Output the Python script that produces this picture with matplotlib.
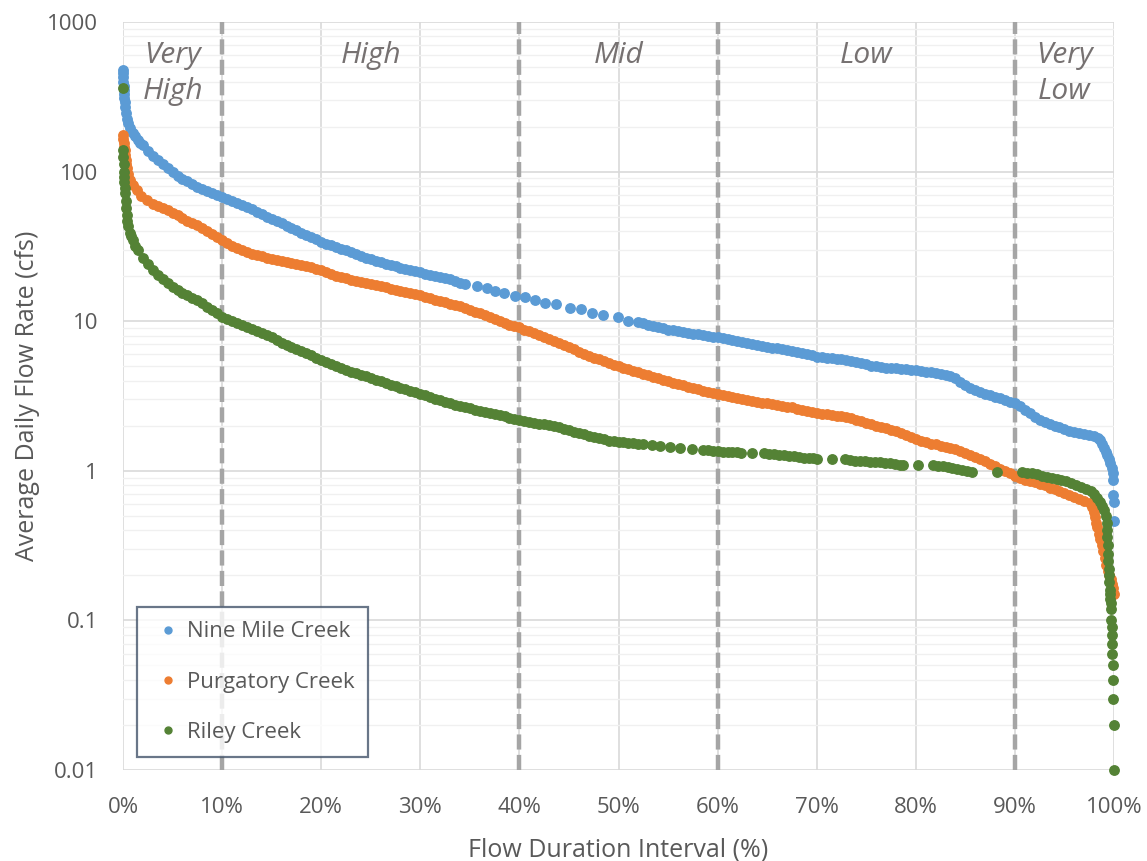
import matplotlib
matplotlib.use("Agg")
import matplotlib.pyplot as plt
import matplotlib.transforms as mtransforms
from matplotlib.lines import Line2D
from matplotlib.ticker import FixedLocator, FuncFormatter, NullFormatter

# Flow duration data: (percent of time flow is exceeded, average daily flow in cfs)
nine_mile = [
    (0.0, 480), (0.01, 455), (0.02, 430), (0.04, 400), (0.06, 375), (0.08, 350),
    (0.1, 330), (0.13, 310), (0.16, 290), (0.2, 270), (0.3, 245), (0.4, 225),
    (0.5, 212), (0.75, 195), (1.0, 182), (1.25, 172), (1.5, 163), (1.75, 156), (2.0, 150),
    (2.5, 138), (3.0, 128), (3.5, 120), (4.0, 113), (4.5, 106), (5.0, 100), (5.5, 94),
    (6.0, 89), (6.5, 86), (7.0, 82), (7.5, 79), (8.0, 76), (8.5, 74), (9.0, 72), (9.5, 70),
    (10.0, 68), (10.5, 66), (11.0, 64), (11.5, 62), (12.0, 60), (12.5, 58), (13.0, 56),
    (13.5, 54), (14.0, 52), (14.5, 50), (15.0, 48.5), (15.5, 47), (16.0, 45), (16.5, 43.5),
    (17.0, 42), (17.5, 40.5), (18.0, 39), (18.5, 37.8), (19.0, 36.5), (19.5, 35.2),
    (20.0, 34), (20.5, 33), (21.0, 32.2), (21.5, 31.4), (22.0, 30.6), (22.5, 29.8),
    (23.0, 29), (23.5, 28.2), (24.0, 27.3), (24.5, 26.6), (25.0, 26), (25.5, 25.4),
    (26.0, 24.8), (26.5, 24.3), (27.0, 23.8), (27.5, 23.3), (28.0, 22.8), (28.5, 22.4),
    (29.0, 22), (29.5, 21.6), (30.0, 21.2), (30.5, 20.8), (31.0, 20.4), (31.5, 20.1),
    (32.0, 19.8), (32.5, 19.5), (33.0, 19), (33.5, 18.5), (34.0, 18), (34.5, 17.6),
    (35.7, 17.2), (36.7, 16.7), (37.5, 15.8), (38.4, 15.5), (39.6, 14.8), (40.6, 14.5),
    (41.6, 13.9), (42.6, 13.3), (43.7, 13.0), (45.1, 12.3), (46.2, 12.0), (47.3, 11.4),
    (48.4, 11.0), (49.9, 10.6), (51.0, 10.0), (52.0, 9.9), (52.5, 9.7), (53.0, 9.5),
    (53.5, 9.3), (54.0, 9.2), (54.5, 9.0), (55.0, 8.8), (55.5, 8.7), (56.0, 8.55),
    (56.5, 8.45), (57.0, 8.35), (57.5, 8.25), (58.0, 8.15), (58.5, 8.05), (59.0, 8.0),
    (59.5, 7.9), (60.0, 7.8), (60.5, 7.7), (61.0, 7.6), (61.5, 7.5), (62.0, 7.4),
    (62.5, 7.3), (63.0, 7.15), (63.5, 7.05), (64.0, 6.9), (64.5, 6.8), (65.0, 6.7),
    (65.5, 6.65), (66.0, 6.6), (66.5, 6.55), (67.0, 6.45), (67.5, 6.35), (68.0, 6.2),
    (68.5, 6.1), (69.0, 6.0), (69.5, 5.9), (70.0, 5.8), (70.5, 5.75), (71.0, 5.7),
    (71.5, 5.65), (72.0, 5.6), (72.5, 5.55), (73.0, 5.5), (73.5, 5.45), (74.0, 5.35),
    (74.5, 5.25), (75.0, 5.15), (75.5, 5.05), (76.0, 5.0), (76.5, 4.95), (77.0, 4.9),
    (77.5, 4.87), (78.0, 4.85), (78.5, 4.8), (79.0, 4.77), (79.5, 4.73), (80.0, 4.7),
    (80.5, 4.65), (81.0, 4.6), (81.5, 4.55), (82.0, 4.5), (82.5, 4.45), (83.0, 4.4),
    (83.5, 4.3), (84.0, 4.15), (84.5, 3.95), (85.0, 3.75), (85.5, 3.6), (86.0, 3.45),
    (86.5, 3.35), (87.0, 3.28), (87.5, 3.2), (88.0, 3.12), (88.5, 3.05), (89.0, 2.98),
    (89.5, 2.9), (90.0, 2.82), (90.5, 2.7), (91.0, 2.55), (91.5, 2.42), (92.0, 2.3),
    (92.5, 2.2), (93.0, 2.12), (93.5, 2.05), (94.0, 2.0), (94.5, 1.95), (95.0, 1.9),
    (95.5, 1.85), (96.0, 1.82), (96.5, 1.79), (97.0, 1.76), (97.5, 1.73), (98.0, 1.7),
    (98.4, 1.66), (98.6, 1.6), (98.8, 1.5), (99.0, 1.42), (99.15, 1.34), (99.3, 1.27),
    (99.45, 1.2), (99.6, 1.13), (99.75, 1.04), (99.85, 0.97), (99.9, 0.87), (99.93, 0.69),
    (99.96, 0.62), (100.0, 0.46),
]

purgatory = [
    (0.0, 175), (0.05, 165), (0.1, 155), (0.15, 147), (0.2, 140), (0.25, 130), (0.3, 120),
    (0.35, 112), (0.4, 105), (0.5, 97), (0.7, 88), (1.0, 81), (1.4, 75), (1.8, 69),
    (2.4, 65), (3.0, 61), (3.5, 59),
    (4.0, 57), (4.5, 55), (5.0, 53), (5.5, 51), (6.0, 49), (6.5, 47), (7.0, 45.5),
    (7.5, 44), (8.0, 42), (8.5, 40), (9.0, 38), (9.5, 36.5), (10.0, 35), (10.5, 33.5),
    (11.0, 32), (11.5, 31), (12.0, 30), (12.5, 29), (13.0, 28.3), (13.5, 27.7),
    (14.0, 27.1), (14.5, 26.6), (15.0, 26.2), (15.5, 25.8), (16.0, 25.4), (16.5, 25),
    (17.0, 24.6), (17.5, 24.2), (18.0, 23.8), (18.5, 23.4), (19.0, 22.9), (19.5, 22.4),
    (20.0, 22), (20.5, 21.4), (21.0, 20.8), (21.5, 20.2), (22.0, 19.7), (22.5, 19.3),
    (23.0, 18.9), (23.5, 18.5), (24.0, 18.2), (24.5, 18), (25.0, 17.7), (25.5, 17.4),
    (26.0, 17.1), (26.5, 16.8), (27.0, 16.5), (27.5, 16.2), (28.0, 15.9), (28.5, 15.6),
    (29.0, 15.4), (29.5, 15.2), (30.0, 15.0), (30.5, 14.6), (31.0, 14.2), (31.5, 13.9),
    (32.0, 13.6), (32.5, 13.4), (33.0, 13.1), (33.5, 12.8), (34.0, 12.6), (34.5, 12.2),
    (35.0, 11.9), (35.5, 11.6), (36.0, 11.3), (36.5, 11.0), (37.0, 10.7), (37.5, 10.4),
    (38.0, 10.0), (38.5, 9.7), (39.0, 9.5), (39.5, 9.3), (40.0, 9.1), (40.5, 8.8),
    (41.0, 8.6), (41.5, 8.35), (42.0, 8.1), (42.5, 7.8), (43.0, 7.6), (43.5, 7.35),
    (44.0, 7.1), (44.5, 6.95), (45.0, 6.75), (45.5, 6.5), (46.0, 6.25), (46.5, 6.05),
    (47.0, 5.85), (47.5, 5.7), (48.0, 5.55), (48.5, 5.4), (49.0, 5.25), (49.5, 5.12),
    (50.0, 5.0), (50.5, 4.88), (51.0, 4.77), (51.5, 4.66), (52.0, 4.55), (52.5, 4.45),
    (53.0, 4.35), (53.5, 4.25), (54.0, 4.15), (54.5, 4.06), (55.0, 3.97), (55.5, 3.88),
    (56.0, 3.8), (56.5, 3.72), (57.0, 3.64), (57.5, 3.57), (58.0, 3.5), (58.5, 3.44),
    (59.0, 3.38), (59.5, 3.33), (60.0, 3.28), (60.5, 3.22), (61.0, 3.17), (61.5, 3.13),
    (62.0, 3.08), (62.5, 3.03), (63.0, 2.98), (63.5, 2.94), (64.0, 2.9), (64.5, 2.86),
    (65.0, 2.83), (65.5, 2.8), (66.0, 2.77), (66.5, 2.73), (67.0, 2.69), (67.5, 2.65),
    (68.0, 2.6), (68.5, 2.55), (69.0, 2.5), (69.5, 2.46), (70.0, 2.43), (70.5, 2.4),
    (71.0, 2.38), (71.5, 2.36), (72.0, 2.34), (72.5, 2.31), (73.0, 2.28), (73.5, 2.25),
    (74.0, 2.2), (74.5, 2.15), (75.0, 2.1), (75.5, 2.04), (76.0, 2.0), (76.5, 1.96),
    (77.0, 1.92), (77.5, 1.88), (78.0, 1.84), (78.5, 1.79), (79.0, 1.74), (79.5, 1.68),
    (80.0, 1.63), (80.5, 1.58), (81.0, 1.55), (81.5, 1.52), (82.0, 1.5), (82.5, 1.47),
    (83.0, 1.45), (83.5, 1.42), (84.0, 1.39), (84.5, 1.36), (85.0, 1.32), (85.5, 1.28),
    (86.0, 1.24), (86.5, 1.2), (87.0, 1.16), (87.5, 1.11), (88.0, 1.07), (88.5, 1.03),
    (89.0, 1.0), (89.5, 0.97), (90.0, 0.93), (90.5, 0.9), (91.0, 0.87), (91.5, 0.85),
    (92.0, 0.84), (92.5, 0.82), (93.0, 0.8), (93.5, 0.77), (94.0, 0.75), (94.5, 0.73),
    (95.0, 0.71), (95.5, 0.69), (96.0, 0.67), (96.5, 0.65), (97.0, 0.63), (97.6, 0.61),
    (97.8, 0.57), (97.95, 0.53), (98.1, 0.49), (98.2, 0.45), (98.3, 0.42), (98.45, 0.38),
    (98.6, 0.35), (98.75, 0.32), (98.9, 0.29), (99.05, 0.26), (99.2, 0.235), (99.35, 0.215),
    (99.5, 0.2), (99.65, 0.19), (99.8, 0.175), (99.9, 0.165), (100.0, 0.15),
]

riley = [
    (0.0, 360), (0.0, 140), (0.03, 125), (0.06, 112), (0.09, 100), (0.12, 92), (0.15, 85),
    (0.2, 78), (0.25, 72), (0.3, 64), (0.35, 57), (0.4, 51), (0.45, 47), (0.55, 43),
    (0.7, 39), (0.85, 37), (1.0, 35), (1.25, 32), (1.5, 30), (2.0, 26.5), (2.5, 24),
    (3.0, 22), (3.5, 20.5), (4.0, 19.2), (4.5, 18), (5.0, 17), (5.5, 16.2), (6.0, 15.5),
    (6.5, 14.9), (7.0, 14.4), (7.5, 13.9), (8.0, 13.2), (8.5, 12.5), (9.0, 11.9),
    (9.5, 11.3), (10.0, 10.7), (10.5, 10.4), (11.0, 10.1), (11.5, 9.8), (12.0, 9.5),
    (12.5, 9.2), (13.0, 8.9), (13.5, 8.6), (14.0, 8.35), (14.5, 8.1), (15.0, 7.8),
    (15.5, 7.5), (16.0, 7.2), (16.5, 6.95), (17.0, 6.7), (17.5, 6.5), (18.0, 6.3),
    (18.5, 6.1), (19.0, 5.9), (19.5, 5.7), (20.0, 5.5), (20.5, 5.35), (21.0, 5.2),
    (21.5, 5.05), (22.0, 4.9), (22.5, 4.75), (23.0, 4.6), (23.5, 4.5), (24.0, 4.38),
    (24.5, 4.27), (25.0, 4.16), (25.5, 4.06), (26.0, 3.96), (26.5, 3.86), (27.0, 3.76),
    (27.5, 3.67), (28.0, 3.58), (28.5, 3.5), (29.0, 3.42), (29.5, 3.35), (30.0, 3.28),
    (30.5, 3.2), (31.0, 3.12), (31.5, 3.04), (32.0, 2.97), (32.5, 2.9), (33.0, 2.83),
    (33.5, 2.77), (34.0, 2.71), (34.5, 2.66), (35.0, 2.61), (35.5, 2.56), (36.0, 2.52),
    (36.5, 2.48), (37.0, 2.43), (37.5, 2.39), (38.0, 2.35), (38.5, 2.31), (39.0, 2.27),
    (39.5, 2.23), (40.0, 2.19), (40.5, 2.16), (41.0, 2.13), (41.5, 2.1), (42.0, 2.07),
    (42.5, 2.04), (43.0, 2.01), (43.5, 1.98), (44.0, 1.95), (44.5, 1.91), (45.0, 1.87),
    (45.5, 1.83), (46.0, 1.79), (46.5, 1.75), (47.0, 1.71), (47.5, 1.68), (48.0, 1.65),
    (48.5, 1.62), (49.0, 1.59), (49.5, 1.57), (50.0, 1.56), (50.5, 1.55), (51.0, 1.54),
    (51.5, 1.53), (52.0, 1.52), (52.5, 1.51), (53.4, 1.49), (54.2, 1.47), (55.2, 1.45),
    (56.2, 1.41), (57.4, 1.39), (58.5, 1.38), (59.0, 1.37), (59.5, 1.36), (60.0, 1.35),
    (60.5, 1.34), (61.0, 1.34), (61.5, 1.33), (62.0, 1.33), (62.4, 1.32), (63.5, 1.32),
    (64.7, 1.31), (65.2, 1.3), (65.7, 1.29), (66.2, 1.28), (66.7, 1.27), (67.2, 1.26),
    (67.7, 1.25), (68.2, 1.23), (68.7, 1.22), (69.2, 1.21), (69.6, 1.21), (70.0, 1.2),
    (71.5, 1.2), (72.9, 1.19), (73.4, 1.18), (73.9, 1.17), (74.4, 1.16), (74.9, 1.16),
    (75.4, 1.15), (75.9, 1.15), (76.4, 1.14), (76.9, 1.13), (77.4, 1.12), (77.9, 1.11),
    (78.4, 1.1), (78.7, 1.1), (80.2, 1.09), (81.7, 1.09), (82.2, 1.08), (82.7, 1.07),
    (83.2, 1.06), (83.7, 1.05), (84.2, 1.03), (84.7, 1.01), (85.2, 1.0), (85.7, 0.98),
    (88.2, 0.98), (90.7, 0.98), (91.2, 0.97), (91.7, 0.96), (92.2, 0.95), (92.7, 0.93),
    (93.2, 0.91), (93.7, 0.89), (94.2, 0.88), (94.7, 0.87), (95.2, 0.85), (95.7, 0.83),
    (96.2, 0.8), (96.7, 0.78), (97.2, 0.76), (97.7, 0.73), (98.0, 0.7), (98.3, 0.66),
    (98.6, 0.62), (98.8, 0.58), (99.0, 0.55), (99.15, 0.5), (99.25, 0.45), (99.3, 0.4),
    (99.33, 0.36), (99.36, 0.32), (99.4, 0.28), (99.43, 0.25), (99.46, 0.22), (99.5, 0.2),
    (99.53, 0.18), (99.56, 0.16), (99.6, 0.15), (99.63, 0.14), (99.66, 0.13), (99.69, 0.12),
    (99.72, 0.1), (99.75, 0.09), (99.78, 0.08), (99.81, 0.07), (99.84, 0.06), (99.87, 0.05),
    (99.9, 0.04), (99.93, 0.03), (99.96, 0.02), (100.0, 0.01),
]

series_names = ["Nine Mile Creek", "Purgatory Creek", "Riley Creek"]
series_colors = ["#5B9BD5", "#ED7D31", "#548235"]

# Flow zones (boundaries in percent) and their names
zone_edges = [0, 10, 40, 60, 90, 100]
zone_names = ["Very\nHigh", "High", "Mid", "Low", "Very\nLow"]

x_ticks = [0, 10, 20, 30, 40, 50, 60, 70, 80, 90, 100]
y_ticks = [0.01, 0.1, 1, 10, 100, 1000]
y_tick_labels = ["0.01", "0.1", "1", "10", "100", "1000"]

plt.rcParams['font.family'] = ['Open Sans', 'DejaVu Sans']
text_color = "#595959"

fig = plt.figure(figsize=(11.47, 8.61), dpi=100)
ax = fig.add_axes([123 / 1147, 1 - 770 / 861, 991 / 1147, 748 / 861])

ax.set_yscale("log")
ax.set_xlim(0, 100)
ax.set_ylim(0.01, 1000)

# Gridlines
ax.yaxis.set_major_locator(FixedLocator(y_ticks))
minor = [m * 10.0 ** e for e in range(-2, 3) for m in range(2, 10)]
ax.yaxis.set_minor_locator(FixedLocator(minor))
ax.yaxis.set_minor_formatter(NullFormatter())
ax.set_yticklabels(y_tick_labels)
ax.xaxis.set_major_locator(FixedLocator(x_ticks))
ax.xaxis.set_major_formatter(FuncFormatter(lambda v, _: f"{v:.0f}%"))

ax.grid(which="major", axis="both", color="#D9D9D9", lw=1.2, zorder=0)
ax.grid(which="minor", axis="y", color="#F0F0F0", lw=1.0, zorder=0)
ax.set_axisbelow(True)
for s in ax.spines.values():
    s.set_visible(False)
ax.tick_params(axis="both", which="both", length=0, labelsize=16, colors=text_color)
ax.tick_params(axis="y", pad=18)
ax.tick_params(axis="x", pad=19.5)

# Zone boundaries
for edge in zone_edges[1:-1]:
    ax.axvline(edge, color="#A5A5A5", lw=3.2, dashes=(3.4, 1.2), zorder=1)

# Zone names, centred in each zone
trans = mtransforms.blended_transform_factory(ax.transData, ax.transAxes)
for lo, hi, name in zip(zone_edges[:-1], zone_edges[1:], zone_names):
    ax.text((lo + hi) / 2, 0.975, name, transform=trans, ha="center", va="top",
            fontsize=21.5, style="italic", color="#767171", linespacing=1.35)

# Flow duration curves
for data, name, color, z in zip([nine_mile, purgatory, riley], series_names,
                                series_colors, [3, 4, 5]):
    xs, ys = zip(*data)
    ax.plot(xs, ys, linestyle="none", marker="o", ms=6.8, color=color,
            mec=color, zorder=z, clip_on=False)

ax.set_xlabel("Flow Duration Interval (%)", fontsize=18, color=text_color, labelpad=14)
ax.set_ylabel("Average Daily Flow Rate (cfs)", fontsize=18, color=text_color, labelpad=5)

handles = [Line2D([], [], linestyle="none", marker="o", ms=5, color=c, mec=c)
           for c in series_colors]
leg = ax.legend(handles, series_names, loc="lower left",
                bbox_to_anchor=(14 / 991, 13 / 748), borderaxespad=0,
                fontsize=16, frameon=True, fancybox=False, labelspacing=1.32,
                handlelength=1.55, handletextpad=0.05, borderpad=0.63,
                labelcolor=text_color)
leg.get_frame().set_edgecolor("#44546A")
leg.get_frame().set_linewidth(1.6)
leg.set_zorder(10)

fig.savefig("out.png", dpi=100)
